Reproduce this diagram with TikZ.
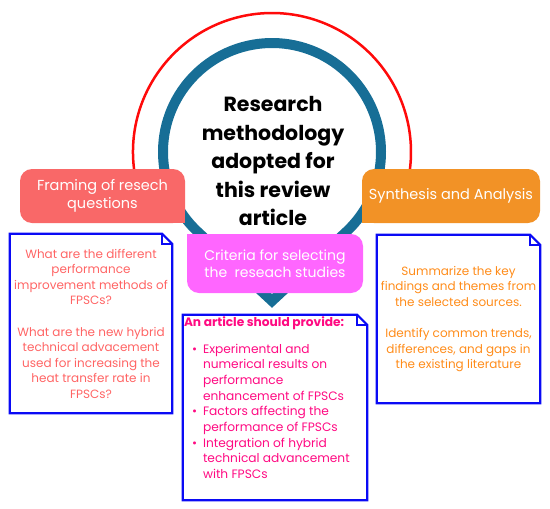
\documentclass[tikz,border=0pt]{standalone}
\usepackage{fontspec}
\setmainfont{Poppins}
\usetikzlibrary{calc}
\definecolor{ringblue}{HTML}{176E96}
\definecolor{halored}{HTML}{FF0A0A}
\definecolor{framebox}{HTML}{F96868}
\definecolor{synthbox}{HTML}{F29226}
\definecolor{critbox}{HTML}{FF66FF}
\definecolor{docblue}{HTML}{0A0AF5}
\definecolor{qtext}{HTML}{FF6464}
\definecolor{stext}{HTML}{FF8C1A}
\definecolor{atext}{HTML}{FF0A82}
\newlength{\foldsize}
\setlength{\foldsize}{10pt}
\newcommand\foldframe[1]{%
  \draw[docline] (#1.north west) -- ([xshift=-\foldsize]#1.north east)
    -- ([yshift=-\foldsize]#1.north east) -- (#1.south east)
    -- (#1.south west) -- cycle;
  \draw[docline] ([xshift=-\foldsize]#1.north east)
    -- ([xshift=-\foldsize,yshift=-\foldsize]#1.north east)
    -- ([yshift=-\foldsize]#1.north east);}

\begin{document}
\begin{tikzpicture}[x=1pt, y=-1pt,
  tag/.style={rectangle, rounded corners=12pt, text=white, align=center,
    inner sep=0pt, font=\fontsize{14.5}{18.5}\selectfont},
  docbox/.style={rectangle, align=center, inner sep=0pt,
    font=\fontsize{12}{15.5}\selectfont},
  ring/.style={draw=ringblue, line width=10pt, line join=miter},
  halo/.style={draw=halored, line width=2.5pt},
  docline/.style={draw=docblue, line width=2.2pt, line join=miter},
]
\useasboundingbox (0,0) rectangle (550,509);
\coordinate (hub) at (272,152);
\coordinate (tip) at (272,301);
% rings
\draw[halo] ($(hub)+(170:139)$) arc[start angle=170, end angle=370, radius=139];
\draw[ring] (tip) -- ($(hub)+(133:109)$) arc[start angle=133, end angle=407, radius=109] -- cycle;
\node[font=\fontsize{20.5}{28.5}\selectfont\bfseries, align=center] (title) at (273,161)
  {Research\\methodology\\adopted for\\this review\\article};
% steps
\node[tag, fill=framebox, minimum width=165, minimum height=54] (framing) at (102.5,196)
  {Framing of resech\\questions};
\node[tag, fill=synthbox, minimum width=178, minimum height=54] (synth) at (451,196)
  {Synthesis and Analysis};
\node[tag, fill=critbox, minimum width=176, minimum height=59,
  font=\fontsize{14}{17}\selectfont] (crit) at (275,263.5)
  {Criteria for selecting\\the\ \ reseach studies};
% square corners
\fill[framebox] (framing.south east) rectangle ++(-14,-14);
\fill[synthbox] (synth.south west) rectangle ++(14,-14);
\fill[critbox] (crit.north west) rectangle ++(14,14);
% notes
\node[docbox, text=qtext, minimum width=162, minimum height=179] (quest) at (91,323.5)
  {What are the different\\performance\\improvement methods of\\FPSCs?\\[16pt]
   What are the new hybrid\\technical advacement\\used for increasing the\\heat transfer rate in\\FPSCs?};
\node[docbox, text=stext, minimum width=163, minimum height=168] (summ) at (458.5,319)
  {Summarize the key\\findings and themes from\\the selected sources.\\[16pt]
   Identify common trends,\\differences, and gaps in\\the existing literature};
\node[docbox, text=atext, minimum width=184, minimum height=185,
  font=\fontsize{12.2}{15.7}\selectfont] (article) at (275,407.5)
  {\begin{minipage}[c][181pt][t]{182pt}
   {\bfseries An article should provide:}\\[11pt]
   \begin{tabular}{@{\hspace{8pt}}l@{\hspace{6pt}}l@{}}
   \textbullet & Experimental and\\
    & numerical results on\\
    & performance\\
    & enhancement of FPSCs\\
   \textbullet & Factors affecting the\\
    & performance of FPSCs\\
   \textbullet & Integration of hybrid\\
    & technical advancement\\
    & with FPSCs
   \end{tabular}
   \end{minipage}};
\foldframe{quest}
\foldframe{summ}
\foldframe{article}
\end{tikzpicture}
\end{document}
